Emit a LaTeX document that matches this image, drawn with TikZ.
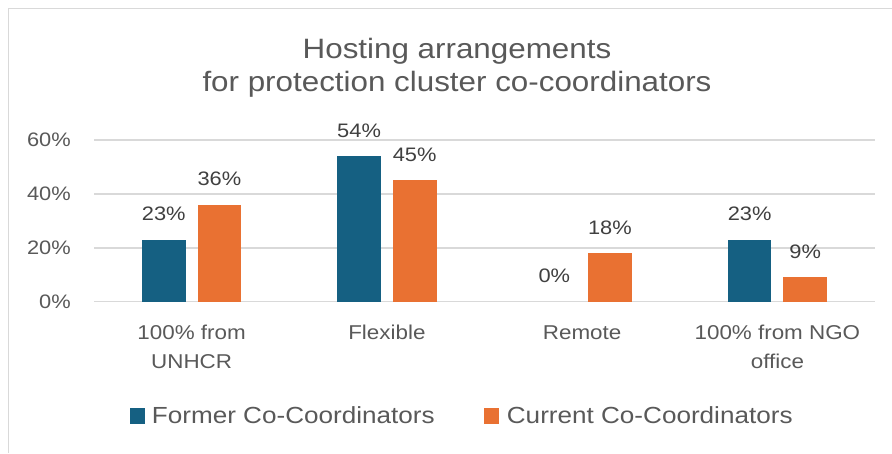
\documentclass[tikz,border=0pt]{standalone}
\usepackage{fontspec}
\setmainfont{Liberation Sans}[FakeStretch=1.12]
\definecolor{formerC}{HTML}{156082}
\definecolor{currentC}{HTML}{E97132}
\definecolor{gridC}{HTML}{D9D9D9}
\definecolor{frameC}{HTML}{D9D9D9}
\definecolor{txtC}{HTML}{595959}
\definecolor{valC}{HTML}{404040}
\tikzset{
  gridline/.style={draw=gridC, line width=1.5pt},
  framestyle/.style={draw=frameC, line width=1.5pt},
  titletext/.style={text=txtC, inner sep=0pt, font=\fontsize{28}{32}\selectfont},
  axistext/.style={text=txtC, inner sep=0pt, font=\fontsize{19.5}{23}\selectfont},
  valtext/.style={text=valC, inner sep=0pt, font=\fontsize{19.5}{23}\selectfont},
  cattext/.style={text=txtC, inner sep=0pt, font=\fontsize{20}{24}\selectfont},
  legtext/.style={text=txtC, inner sep=0pt, font=\fontsize{23.3}{27}\selectfont},
  barbox/.style={inner sep=0pt, outer sep=0pt, minimum width=43.7pt, anchor=south, draw=none},
  formerbar/.style={barbox, fill=formerC},
  currentbar/.style={barbox, fill=currentC},
  emptybar/.style={barbox},
}
\begin{document}
\begin{tikzpicture}[x=1pt,y=-1pt]
\useasboundingbox (0,0) rectangle (892,453);
\fill[white] (0,0) rectangle (892,453);
\draw[framestyle] (8.5,453) -- (8.5,8.5) -- (892,8.5);

% title
\node[titletext, anchor=base] (title1) at (457,58.3) {Hosting arrangements};
\node[titletext, anchor=base] (title2) at (457,91.7) {for protection cluster co-coordinators};

% gridlines and axis labels
\foreach \v/\y in {0/301.7, 20/247.8, 40/193.9, 60/140} {
  \draw[gridline] (94,\y) -- (875,\y);
  \node[axistext, anchor=base east] (ax\v) at (71,{\y+6.8}) {\v\%};
}

% bars
\foreach \k/\cx/\fv/\cv/\fs in {1/191.6/23/36/formerbar, 2/386.9/54/45/formerbar, 3/582.1/0/18/emptybar, 4/777.4/23/9/formerbar} {
  \node[\fs, minimum height={\fv*2.695pt}] (f\k) at ({\cx-27.8},301.7) {};
  \node[currentbar, minimum height={\cv*2.695pt}] (c\k) at ({\cx+27.8},301.7) {};
  \node[valtext, anchor=base] (lf\k) at ([yshift=19pt]f\k.north) {\fv\%};
  \node[valtext, anchor=base] (lc\k) at ([yshift=19pt]c\k.north) {\cv\%};
}

% category labels
\node[cattext, anchor=base] (cat1a) at (191.6,339.3) {100\% from};
\node[cattext, anchor=base] (cat1b) at (191.6,368.3) {UNHCR};
\node[cattext, anchor=base] (cat2) at (386.9,339.3) {Flexible};
\node[cattext, anchor=base] (cat3) at (582.1,339.3) {Remote};
\node[cattext, anchor=base] (cat4a) at (777.4,339.3) {100\% from NGO};
\node[cattext, anchor=base] (cat4b) at (777.4,368.3) {office};

% legend
\node[fill=formerC, inner sep=0pt, minimum width=15pt, minimum height=16pt, anchor=north west] (legF) at (130,408) {};
\node[legtext, anchor=base west] (legFt) at (151.7,423.3) {Former Co-Coordinators};
\node[fill=currentC, inner sep=0pt, minimum width=15pt, minimum height=16pt, anchor=north west] (legC) at (484,408) {};
\node[legtext, anchor=base west] (legCt) at (506.7,423.3) {Current Co-Coordinators};
\end{tikzpicture}
\end{document}
